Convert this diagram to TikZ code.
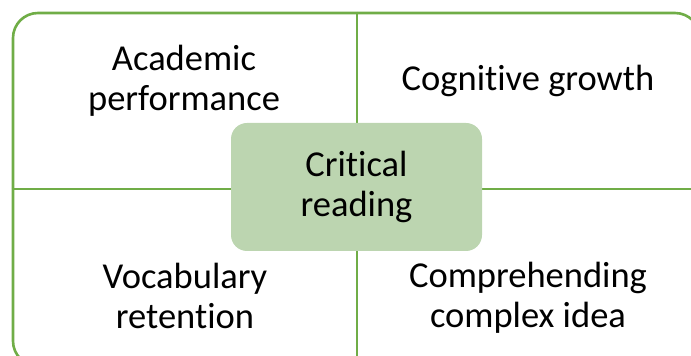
\documentclass[tikz,border=0pt]{standalone}
\usepackage{fontspec}
\setmainfont{Carlito}[RawFeature={-liga;-clig;-dlig;-calt}]
\usetikzlibrary{positioning}
\definecolor{leafgreen}{HTML}{70AD47}
\definecolor{sagefill}{HTML}{BCD5B0}
\begin{document}
\begin{tikzpicture}[
  x=1pt, y=1pt,
  frame/.style={draw=leafgreen, line width=2.6pt, rounded corners=25pt,
                minimum width=687pt, minimum height=353pt, inner sep=0pt},
  hub/.style={fill=sagefill, rounded corners=16pt, minimum width=251pt,
              minimum height=128pt, align=center, inner sep=0pt,
              font=\fontsize{36.5}{40}\selectfont},
  quad/.style={align=center, font=\fontsize{36.5}{40}\selectfont}
]
\useasboundingbox (0,0) rectangle (691,356);
\node[frame] (frame) at (356.5,166.5) {};
\draw[leafgreen, line width=2pt] (frame.north) -- (frame.south);
\draw[leafgreen, line width=2pt] (frame.west) -- (frame.east);
\node[hub] (core) at (356.5,169) {Critical\\reading};
\node[quad] (acad)  at (184,275) {Academic\\performance};
\node[quad] (cogn)  at (528,275) {Cognitive growth};
\node[quad] (vocab) at (185,60)  {Vocabulary\\retention};
\node[quad] (compr) at (528,58)  {Comprehending\\complex idea};
\end{tikzpicture}
\end{document}
